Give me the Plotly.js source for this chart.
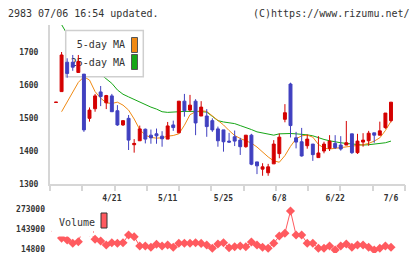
<!DOCTYPE html>
<html><head><meta charset="utf-8">
<script src="https://cdn.plot.ly/plotly-3.0.1.min.js"></script>
<style>html,body{margin:0;padding:0;background:#fff;}#chart{width:420px;height:259px;}</style>
</head><body><div id="chart"></div>
<script>
// ---- data ----
const dates = ['4/7','4/8','4/9','4/10','4/13','4/14','4/15','4/16','4/17','4/20',
  '4/21','4/22','4/23','4/24','4/27','4/28','4/30','5/1','5/7','5/8',
  '5/11','5/12','5/13','5/14','5/15','5/18','5/19','5/20','5/21','5/22',
  '5/25','5/26','5/27','5/28','5/29','6/1','6/2','6/3','6/4','6/5',
  '6/8','6/9','6/10','6/11','6/12','6/15','6/16','6/17','6/18','6/19',
  '6/22','6/23','6/24','6/25','6/26','6/29','6/30','7/1','7/2','7/3','7/6'];
const openP  = [1547,1580,1669,1669,1638,1633,1499,1528,1579,1546,
  1567,1522,1479,1499,1419,1431,1466,1448,1452,1445,
  1436,1479,1455,1551,1524,1551,1506,1506,1492,1467,
  1464,1430,1443,1433,1413,1448,1367,1345,1334,1361,
  1392,1496,1603,1440,1428,1416,1421,1380,1400,1408,
  1423,1418,1418,1452,1395,1427,1431,1455,1448,1471,1492];
const highP  = [1548,1700,1681,1691,1691,1633,1532,1573,1597,1570,
  1573,1539,1492,1509,1436,1477,1468,1465,1468,1460,
  1488,1492,1551,1573,1570,1557,1551,1527,1499,1474,
  1464,1455,1462,1440,1448,1452,1367,1363,1361,1433,
  1453,1542,1607,1458,1470,1450,1421,1445,1428,1448,
  1448,1445,1491,1452,1452,1454,1461,1455,1489,1515,1548];
const lowP   = [1547,1580,1622,1643,1638,1458,1489,1519,1536,1527,
  1519,1476,1476,1403,1395,1431,1423,1422,1422,1413,
  1436,1461,1455,1504,1519,1448,1506,1443,1458,1413,
  1398,1425,1415,1388,1410,1357,1330,1325,1325,1361,
  1378,1487,1441,1408,1383,1407,1370,1380,1393,1400,
  1406,1401,1418,1391,1391,1413,1416,1425,1448,1467,1487];
const closeP = [1548,1691,1635,1654,1671,1464,1524,1567,1565,1568,
  1519,1479,1492,1433,1423,1467,1436,1440,1446,1437,
  1476,1471,1551,1522,1539,1485,1533,1474,1464,1431,
  1428,1427,1430,1413,1448,1360,1355,1352,1352,1421,
  1442,1516,1477,1427,1385,1436,1389,1394,1421,1430,
  1410,1406,1425,1395,1430,1433,1454,1448,1461,1515,1548];
const ma5 = [null,1519,1549,1578,1608,1625,1615,1580,1560,1546,
  1544,1548,1539,1524,1497,1465,1448,1441,1439,1440,
  1445,1447,1452,1478,1510,1519,1522,1520,1507,1494,
  1479,1462,1447,1438,1432,1424,1412,1396,1382,1370,
  1366,1386,1414,1437,1446,1448,1442,1420,1409,1406,
  1408,1411,1412,1414,1416,1419,1423,1430,1440,1462,1490];
const ma25 = [null,1783,1752,1725,1700,1680,1662,1646,1633,1620,
  1605,1585,1572,1564,1556,1549,1540,1533,1527,1519,
  1517,1519,1519,1520,1521,1520,1519,1518,1505,1492,
  1488,1486,1483,1477,1472,1465,1458,1454,1450,1448,
  1452,1453,1453,1452,1451,1449,1446,1440,1435,1431,
  1427,1425,1423,1421,1419,1418,1419,1421,1423,1425,1430];
const volume = [130000,85000,72900,51600,61900,160000,125000,77400,66400,40600,
  55500,51600,55500,105200,94200,34200,34200,25800,45100,34200,
  40600,25800,51600,51600,51600,55500,51000,40600,19300,47100,
  55500,23200,29600,34200,29600,60000,40600,25800,19300,51600,
  98700,116100,260000,105200,105200,51600,51600,19300,19300,34200,
  8300,34200,47100,25800,40600,40600,25800,8300,19300,34200,25800];
const dateTicks = ['4/21','5/11','5/25','6/8','6/22','7/6'];
const priceTicks = [1300,1400,1500,1600,1700];
const volumeTicks = [14800,143900,273000];
const maNames = ['5-day MA','25-day MA'];

// ---- layout geometry (pixels -> paper) ----
const W = 420, H = 259;
const fx = x => x / W, fy = y => (H - y) / H;
const xDom = [fx(50), fx(405)];
const mainDom = [fy(184), fy(25)];
const volDom = [fy(253), fy(205)];
const catRange = [-1.075, 62.51];
const priceRange = [1300, 1781.8];
const MONO = 'DejaVu Sans Mono, monospace';
const RED = '#d40000', BLUE = '#4040c0';
const ORANGE = '#f08a14', GREEN = '#16a616', VOLC = '#ff5a5f';
const AXC = '#d6d6d6';

const traces = [
  {type:'scatter', mode:'lines', x:dates, y:ma25, xaxis:'x', yaxis:'y',
   line:{color:GREEN, width:1}, hoverinfo:'skip', showlegend:false},
  {type:'scatter', mode:'lines', x:dates, y:ma5, xaxis:'x', yaxis:'y',
   line:{color:ORANGE, width:1}, hoverinfo:'skip', showlegend:false},
  {type:'scatter', mode:'text', x:[125,125], y:[45.7,63.3], text:maNames,
   textposition:'middle left', xaxis:'x2', yaxis:'y2',
   textfont:{family:MONO, size:10, color:'#333'}, hoverinfo:'skip', showlegend:false},
  {type:'candlestick', x:dates, open:openP, high:highP, low:lowP, close:closeP,
   xaxis:'x3', yaxis:'y3', whiskerwidth:0,
   increasing:{line:{color:RED, width:1}, fillcolor:RED},
   decreasing:{line:{color:BLUE, width:1}, fillcolor:BLUE},
   hoverinfo:'skip', showlegend:false},
  {type:'scatter', mode:'lines+markers', x:dates, y:volume, xaxis:'x4', yaxis:'y4',
   line:{color:VOLC, width:1}, marker:{symbol:'diamond', size:7, color:VOLC},
   hoverinfo:'skip', showlegend:false}
];

const tf = {family:MONO, size:8, color:'#333', weight:'bold'};
const layout = {
  width:W, height:H, margin:{l:0,r:0,t:0,b:0},
  paper_bgcolor:'#ffffff', plot_bgcolor:'rgba(0,0,0,0)',
  showlegend:false, boxgap:0.25,
  xaxis:{type:'category', domain:xDom, range:catRange, anchor:'y',
    showline:true, linecolor:AXC, linewidth:2, showgrid:false, zeroline:false,
    tickmode:'array', tickvals:dateTicks, ticktext:dateTicks, ticks:'',
    tickfont:tf, ticklabelstandoff:5, fixedrange:true},
  yaxis:{domain:mainDom, range:priceRange, anchor:'x',
    showline:true, linecolor:AXC, linewidth:2, showgrid:false, zeroline:false,
    tickmode:'array', tickvals:priceTicks, ticktext:priceTicks.map(String), ticks:'',
    tickfont:tf, ticklabelstandoff:8, fixedrange:true},
  xaxis2:{domain:xDom, range:[50,405], anchor:'y2', showline:false, showgrid:false,
    zeroline:false, ticks:'outside', ticklen:6, tickwidth:2, tickcolor:AXC,
    tickmode:'linear', tick0:50, dtick:355/11, showticklabels:false, fixedrange:true},
  yaxis2:{domain:mainDom, range:[184,25], anchor:'x2', visible:false, fixedrange:true},
  xaxis3:{type:'category', domain:xDom, range:catRange, anchor:'y3', visible:false,
    rangeslider:{visible:false}, fixedrange:true},
  yaxis3:{domain:mainDom, range:priceRange, anchor:'x3', visible:false, fixedrange:true},
  xaxis4:{type:'category', domain:xDom, range:catRange, anchor:'y4', visible:false, fixedrange:true},
  yaxis4:{domain:volDom, range:[-11020, 298820], anchor:'x4', showline:false,
    showgrid:false, zeroline:false, tickmode:'array', tickvals:volumeTicks,
    ticktext:volumeTicks.map(String), ticks:'', tickfont:tf, ticklabelstandoff:4, fixedrange:true},
  shapes:[
    // MA legend box (below candles, above MA lines)
    {type:'rect', xref:'x2', yref:'y2', x0:65.7, x1:143.3, y0:30.5, y1:76.7,
     fillcolor:'#ffffff', line:{color:'#cfcfcf', width:1.5}, layer:'below'},
    {type:'rect', xref:'x2', yref:'y2', x0:131.5, x1:137.5, y0:37.5, y1:52.5,
     fillcolor:ORANGE, line:{color:'#555', width:1}, layer:'below'},
    {type:'rect', xref:'x2', yref:'y2', x0:131.5, x1:137.5, y0:54.5, y1:69.5,
     fillcolor:GREEN, line:{color:'#555', width:1}, layer:'below'},
    // Volume legend
    {type:'rect', xref:'paper', yref:'paper', x0:fx(52), x1:fx(93), y0:fy(236.5), y1:fy(206),
     fillcolor:'#ffffff', line:{width:0}, layer:'above'},
    {type:'rect', xref:'paper', yref:'paper', x0:fx(101), x1:fx(107), y0:fy(228), y1:fy(213),
     fillcolor:VOLC, line:{color:'#333', width:1}, layer:'above'}
  ],
  annotations:[
    {xref:'paper', yref:'paper', x:fx(6), y:fy(13), xanchor:'left', yanchor:'middle',
     text:'2983 07/06 16:54 updated.', showarrow:false, font:{family:MONO, size:10, color:'#333'}},
    {xref:'paper', yref:'paper', x:fx(412), y:fy(13), xanchor:'right', yanchor:'middle',
     text:'(C)https://www.rizumu.net/', showarrow:false, font:{family:MONO, size:10, color:'#333'}},
    {xref:'paper', yref:'paper', x:fx(57), y:fy(222.3), xanchor:'left', yanchor:'middle',
     text:'Volume', showarrow:false, font:{family:MONO, size:10, color:'#333'}}
  ]
};

Plotly.newPlot('chart', traces, layout, {staticPlot:true, displayModeBar:false});
</script>
</body></html>
